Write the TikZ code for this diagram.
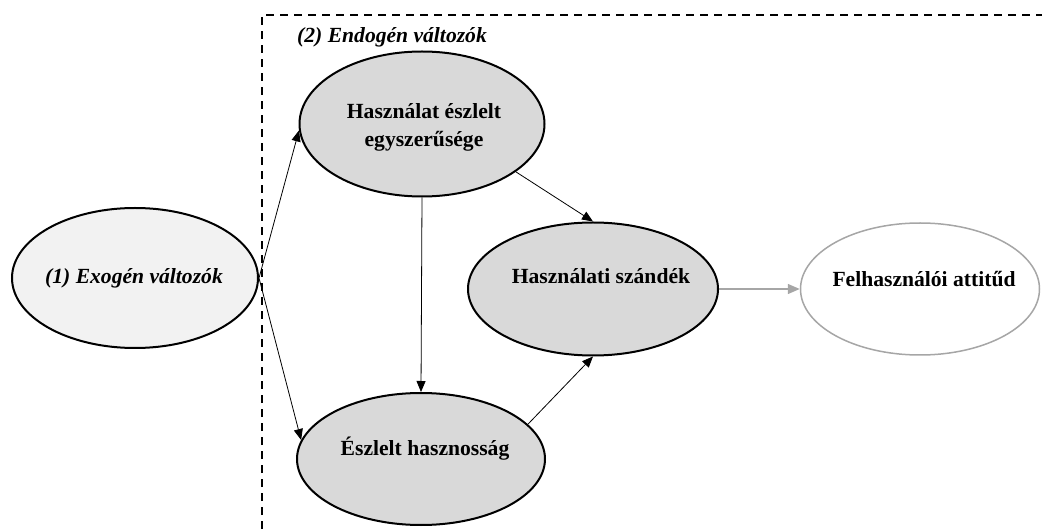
\documentclass[tikz,border=0pt]{standalone}
\usepackage{fontspec}
\setmainfont{Liberation Serif}
\usetikzlibrary{shapes.geometric,arrows.meta}
\definecolor{fillA}{HTML}{F2F2F2}
\definecolor{fillB}{HTML}{D9D9D9}
\definecolor{grayline}{HTML}{A6A6A6}
\begin{document}
\begin{tikzpicture}[x=1pt,y=-1pt,
  ell/.style={ellipse,draw=black,line width=2pt,inner sep=0pt},
  lbl/.style={font=\fontsize{21.6}{28}\selectfont\bfseries,align=center,inner sep=0pt},
  ilbl/.style={lbl,font=\fontsize{21.6}{28}\selectfont\bfseries\itshape},
  arr/.style={line width=0.8pt,-{Triangle[length=11pt,width=9pt]}},
  garr/.style={draw=grayline,line width=1.5pt,-{Triangle[length=12pt,width=10pt,fill=grayline]}}
]
\useasboundingbox (0,0) rectangle (1042,529);
% dashed frame
\coordinate (bl) at (262,529);
\coordinate (tl) at (262,15);
\coordinate (tr) at (1042,15);
\draw[line width=1.8pt,dash pattern=on 8pt off 6pt] (bl) -- (tl) -- (tr);
\node[ilbl] (endlbl) at (392,37) {(2) Endogén változók};
% ellipses
\node[ell,fill=fillA,minimum width=246pt,minimum height=140pt] (ex) at (135,278) {};
\node[ell,fill=fillB,minimum width=245pt,minimum height=145pt] (hs) at (422,124) {};
\node[ell,fill=fillB,minimum width=250pt,minimum height=133pt] (sz) at (593,289) {};
\node[ell,fill=fillB,minimum width=248pt,minimum height=132pt] (esz) at (421,459) {};
\node[ell,draw=grayline,line width=1.5pt,fill=white,minimum width=239pt,minimum height=132pt] (fa) at (920,289) {};
% labels
\node[ilbl] (ext) at (134,278) {(1) Exogén változók};
\node[lbl] (hst) at (424,127) {Használat észlelt\\egyszerűsége};
\node[lbl] (szt) at (601,276) {Használati szándék};
\node[lbl] (eszt) at (425,449) {Észlelt hasznosság};
\node[lbl] (fat) at (924,279) {Felhasználói attitűd};
% connectors
\draw[arr] (ex.east) -- (hs.183);
\draw[arr] (ex.east) -- (esz.171);
\draw[arr] (hs.south) -- (esz.north);
\draw[arr] (hs.-27) -- (sz.north);
\draw[arr] (esz.18) -- (sz.south);
\draw[garr] (sz.east) -- (fa.west);
\end{tikzpicture}
\end{document}
